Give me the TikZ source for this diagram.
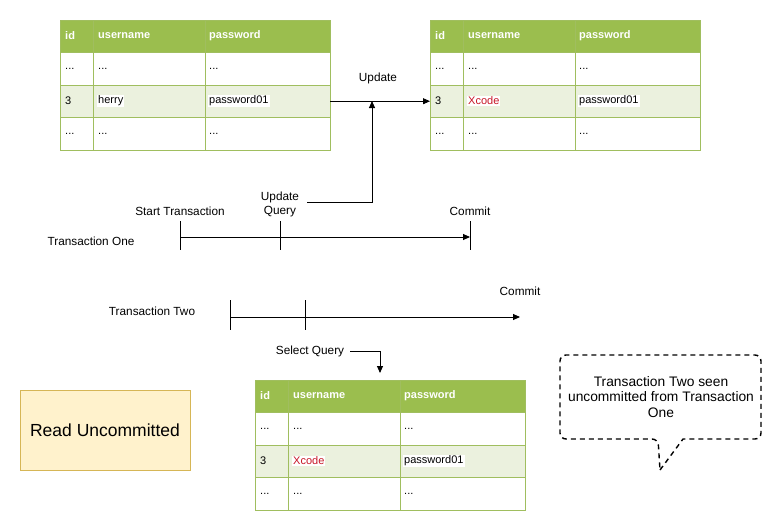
\documentclass[tikz,border=0pt]{standalone}
\usepackage{fontspec}
\setmainfont{Liberation Sans}
\usetikzlibrary{arrows.meta}

\definecolor{hdrgreen}{RGB}{155,190,78}
\definecolor{rowgreen}{RGB}{235,241,222}
\definecolor{gridgreen}{RGB}{160,190,95}
\definecolor{xred}{RGB}{200,22,40}
\definecolor{notefill}{RGB}{255,242,204}
\definecolor{notedraw}{RGB}{214,182,86}

\tikzset{
  cell/.style={anchor=west, inner sep=0pt, font=\fontsize{11}{13}\selectfont},
  hcell/.style={cell, text=white, font=\fontsize{11}{13}\selectfont\bfseries},
  band/.style={anchor=north west, inner sep=0pt, minimum width=270pt, draw=none},
  gridline/.style={draw=gridgreen, line width=1pt},
  flow/.style={-{Triangle[length=7pt,width=6pt]}, line width=0.9pt},
  lbl/.style={font=\fontsize{11.8}{14}\selectfont, inner sep=0pt, align=center},
  tickline/.style={line width=0.9pt},
}

% #1 name, #2 x, #3 y, #4 username cell text, #5 username colour
\newcommand{\dbtable}[5]{%
  \begin{scope}[shift={(#2,#3)}]
    \node[band, fill=hdrgreen, minimum height=32pt] (#1-head) at (0,0) {};
    \node[band, fill=white, minimum height=33pt] (#1-row1) at (0,32) {};
    \node[band, fill=rowgreen, minimum height=32pt] (#1-row2) at (0,65) {};
    \node[band, fill=white, minimum height=33pt] (#1-row3) at (0,97) {};
    \draw[gridline] (0,32) -- (270,32) (0,65) -- (270,65) (0,97) -- (270,97)
                    (33,0) -- (33,130) (145,0) -- (145,130);
    \draw[gridline] (0,0) rectangle (270,130);
    \node[hcell] (#1-hid) at (5,16) {id};
    \node[hcell] (#1-hus) at (38,16) {username};
    \node[hcell] (#1-hpw) at (149,16) {password};
    \node[cell] (#1-a1) at (5,49) {...};
    \node[cell] (#1-a2) at (38,49) {...};
    \node[cell] (#1-a3) at (149,49) {...};
    \node[cell] (#1-b1) at (5,81) {3};
    \node[cell, text=#5, fill=white, inner sep=1pt] (#1-b2) at (37,81) {#4};
    \node[cell, fill=white, inner sep=1pt] (#1-b3) at (148,81) {password01};
    \node[cell] (#1-c1) at (5,114) {...};
    \node[cell] (#1-c2) at (38,114) {...};
    \node[cell] (#1-c3) at (149,114) {...};
  \end{scope}}

\begin{document}
\begin{tikzpicture}[x=1pt, y=-1pt]
  \useasboundingbox[fill=white] (0,0) rectangle (782,531);

  % tables
  \dbtable{ta}{60}{20}{herry}{black}
  \dbtable{tb}{430}{20}{Xcode}{xred}
  \dbtable{tc}{255}{380}{Xcode}{xred}

  % update between the two upper tables
  \draw[flow] (ta-row2.east) -- (tb-row2.west);
  \node[lbl] (upd) at (378,78) {Update};

  % transaction one timeline
  \node[lbl] (t1name) at (91,241) {Transaction One};
  \coordinate (t1s) at (180,237);
  \coordinate (t1q) at (280,237);
  \coordinate (t1e) at (470,237);
  \draw[tickline] (180,221) -- (180,250);
  \draw[tickline] (280,221) -- (280,250);
  \draw[tickline] (470,221) -- (470,250);
  \draw[flow] (t1s) -- (t1e);
  \node[lbl] (t1start) at (180,211) {Start Transaction};
  \node[lbl] (t1upd) at (280,204) {Update\\Query};
  \node[lbl] (t1commit) at (470,211) {Commit};

  % update query feeding the update arrow
  \coordinate (uqs) at (307,202);
  \coordinate (uhit) at (372,101);
  \draw[flow] (uqs) -- (372,202) -- (uhit);

  % transaction two timeline
  \node[lbl] (t2name) at (152,311) {Transaction Two};
  \coordinate (t2s) at (230,317);
  \coordinate (t2q) at (305,317);
  \coordinate (t2e) at (520,317);
  \draw[tickline] (230,300) -- (230,330);
  \draw[tickline] (305,300) -- (305,330);
  \draw[flow] (t2s) -- (t2e);
  \node[lbl] (t2commit) at (520,291) {Commit};

  % select query
  \node[lbl] (selq) at (310,351) {Select Query};
  \coordinate (sqs) at (350,351);
  \coordinate (sqe) at (380,373);
  \draw[flow] (sqs) -- (380,351) -- (sqe);

  % isolation level label
  \node[draw=notedraw, fill=notefill, line width=0.8pt, minimum width=170pt,
        minimum height=80pt, inner sep=0pt,
        font=\fontsize{17.5}{20}\selectfont] (level) at (105,430) {Read Uncommitted};

  % callout
  \draw[dashed, dash pattern=on 5pt off 4pt, line width=1.4pt]
    (660,470) -- (683,439) [rounded corners=6pt] -- (761,439) -- (761,355)
    -- (560,355) -- (560,439) -- (658,439) [sharp corners] -- cycle;
  \node[lbl, font=\fontsize{13.8}{15.5}\selectfont] (note) at (661,397)
    {Transaction Two seen\\uncommitted from Transaction\\One};
\end{tikzpicture}
\end{document}
